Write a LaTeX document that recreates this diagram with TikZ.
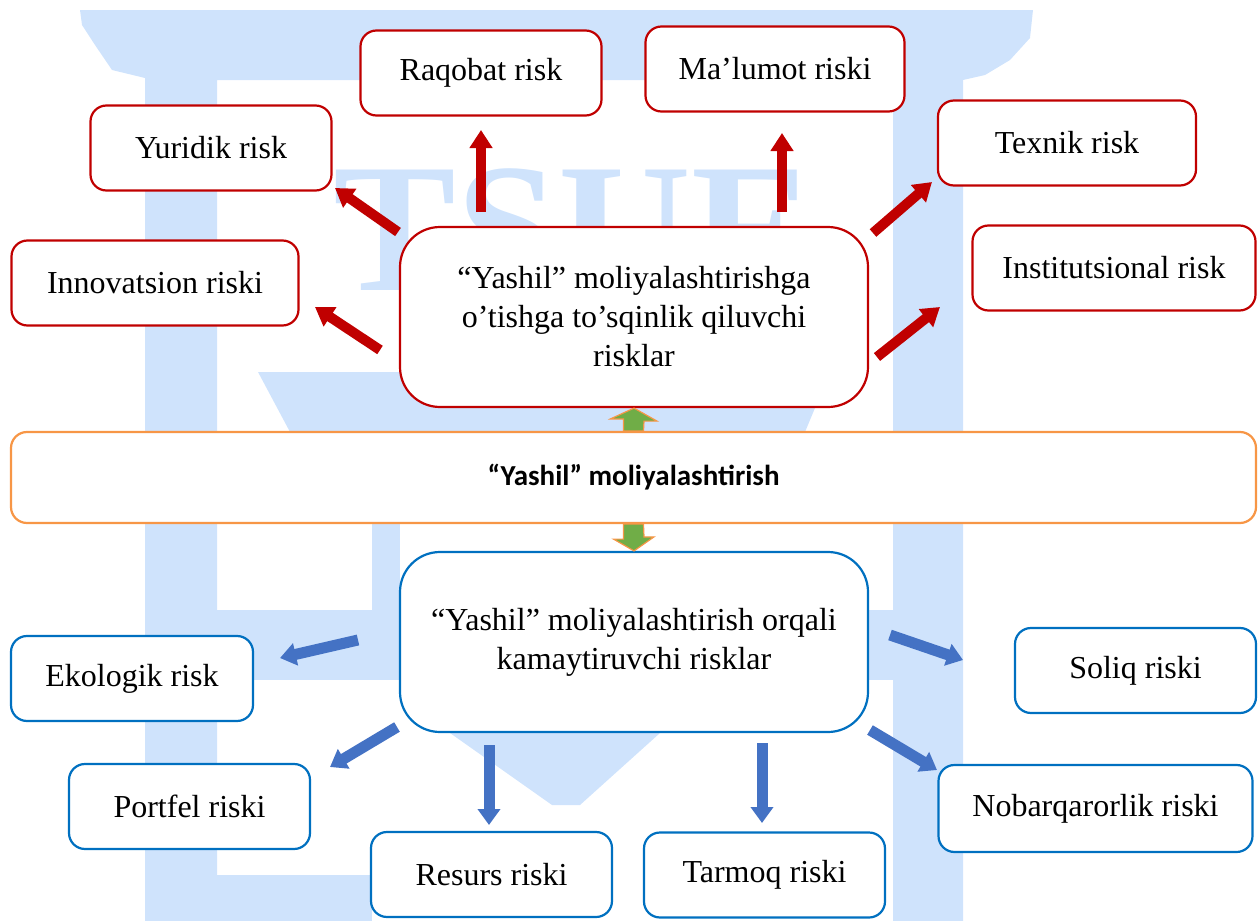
\documentclass[tikz,border=0pt]{standalone}
\usepackage{fontspec}
\setmainfont{Liberation Serif}
\newfontfamily\calibri{Carlito}
\usetikzlibrary{arrows.meta,calc}

\definecolor{riskred}{RGB}{192,0,0}
\definecolor{riskblue}{RGB}{0,112,192}
\definecolor{bandorange}{RGB}{247,150,70}
\definecolor{arrowblue}{RGB}{68,114,196}
\definecolor{arrowgreen}{RGB}{112,173,71}
\definecolor{marklight}{RGB}{207,227,252}

\begin{document}
\begin{tikzpicture}
    [x=0.5pt,y=-0.5pt,
     riskbox/.style={draw,line width=1.1pt,rounded corners=8pt,fill=white,
       minimum height=42.5pt,inner sep=0pt,font=\fontsize{16}{19.5}\selectfont},
     upper/.style={riskbox,draw=riskred},
     lower/.style={riskbox,draw=riskblue},
     hubbox/.style={riskbox,rounded corners=20pt,minimum width=234pt,
       minimum height=90pt,align=center},
     redarrow/.style={line width=5pt,riskred,-{Triangle[width=11pt,length=9pt]}},
     bluearrow/.style={line width=5.5pt,arrowblue,-{Triangle[width=11pt,length=8pt]}},
     greenarrow/.style={fill=arrowgreen,draw=bandorange,line width=0.6pt}]
    \useasboundingbox (0,0) rectangle (1260,921);
    % watermark
    \fill[marklight] (80,10) -- (1033,10) -- (1030,38) -- (1010,60) -- (985,75)
      -- (963,80) -- (963,921) -- (893,921) -- (893,80) -- (217,80) -- (217,921)
      -- (145,921) -- (145,78) -- (112,70) -- (95,45) -- (82,25) -- cycle;
    \node[text=marklight,font=\bfseries\fontsize{92}{92}\selectfont,
      anchor=base west,inner sep=0pt] (mark) at (333,290) {TSUE};
    \fill[marklight] (258,372) -- (830,372) -- (805,432) -- (290,432) -- cycle;
    \fill[marklight] (217,610) rectangle (893,680);
    \fill[marklight] (372,523) rectangle (400,610);
    \fill[marklight] (450,733) -- (660,733) -- (580,805) -- (552,805) -- cycle;
    \fill[marklight] (217,875) rectangle (372,921);
    % risk boxes
    \node[upper,minimum width=120.5pt] (raqobat) at (481,73) {Raqobat risk};
    \node[upper,minimum width=129.5pt] (malumot) at (775,69) {Ma’lumot riski};
    \node[upper,minimum width=120.5pt] (yuridik) at (211,148) {Yuridik risk};
    \node[upper,minimum width=129pt] (texnik) at (1067,143) {Texnik risk};
    \node[upper,minimum width=143.5pt] (innovatsion) at (155,283) {Innovatsion riski};
    \node[upper,minimum width=141.5pt] (institut) at (1114,268) {Institutsional risk};
    \node[hubbox,draw=riskred] (top) at (634,317)
      {“Yashil” moliyalashtirishga\\o’tishga to’sqinlik qiluvchi\\risklar};
    \node[draw=bandorange,line width=1.1pt,rounded corners=8pt,fill=white,
      minimum width=622.5pt,minimum height=45.5pt,
      font=\calibri\bfseries\fontsize{14.5}{17}\selectfont] (band) at (633.5,477.5)
      {“Yashil” moliyalashtirish};
    \node[hubbox,draw=riskblue] (bottom) at (634,642)
      {“Yashil” moliyalashtirish orqali\\kamaytiruvchi risklar};
    \node[lower,minimum width=121pt] (ekologik) at (132,678.5) {Ekologik risk};
    \node[lower,minimum width=120.5pt] (soliq) at (1135.5,670.5) {Soliq riski};
    \node[lower,minimum width=120.5pt] (portfel) at (189.5,806.5) {Portfel riski};
    \node[lower,minimum width=157pt,minimum height=43.5pt] (nobarqaror) at (1095.5,808.5)
      {Nobarqarorlik riski};
    \node[lower,minimum width=120.5pt] (resurs) at (491.5,874.5) {Resurs riski};
    \node[lower,minimum width=120.5pt] (tarmoq) at (764.5,875) {Tarmoq riski};
    % arrow ends
    \coordinate (yuridik from) at (398,232);  \coordinate (yuridik to) at (335,188);
    \coordinate (innov from) at (380,350);    \coordinate (innov to) at (315,307);
    \coordinate (raqobat from) at (481,212);  \coordinate (raqobat to) at (481,130);
    \coordinate (malumot from) at (782,212);  \coordinate (malumot to) at (782,133);
    \coordinate (texnik from) at (873,233);   \coordinate (texnik to) at (932,182);
    \coordinate (institut from) at (877,357); \coordinate (institut to) at (940,307);
    \coordinate (ekologik from) at (358,640); \coordinate (ekologik to) at (280,658);
    \coordinate (portfel from) at (397,727);  \coordinate (portfel to) at (330,767);
    \coordinate (resurs from) at (489,745);   \coordinate (resurs to) at (489,825);
    \coordinate (tarmoq from) at (762,743);   \coordinate (tarmoq to) at (762,823);
    \coordinate (soliq from) at (890,635);    \coordinate (soliq to) at (963,660);
    \coordinate (nobar from) at (870,730);    \coordinate (nobar to) at (937,770);
    \foreach \n in {yuridik,innov,raqobat,malumot,texnik,institut}
      \draw[redarrow] (\n\space from) -- (\n\space to);
    \foreach \n in {ekologik,portfel,resurs,tarmoq,soliq,nobar}
      \draw[bluearrow] (\n\space from) -- (\n\space to);
    % band arrows
    \draw[greenarrow] ($(band.north)+(-10,0)$) -- ++(0,-12) -- ++(-13,0) -- (top.south)
      -- ($(top.south)+(23,13)$) -- ++(-13,0) -- ($(band.north)+(10,0)$) -- cycle;
    \draw[greenarrow] ($(band.south)+(-10,0)$) -- ++(0,15) -- ++(-10,0) -- (bottom.north)
      -- ($(bottom.north)+(20,-14)$) -- ++(-10,0) -- ($(band.south)+(10,0)$) -- cycle;
\end{tikzpicture}
\end{document}
